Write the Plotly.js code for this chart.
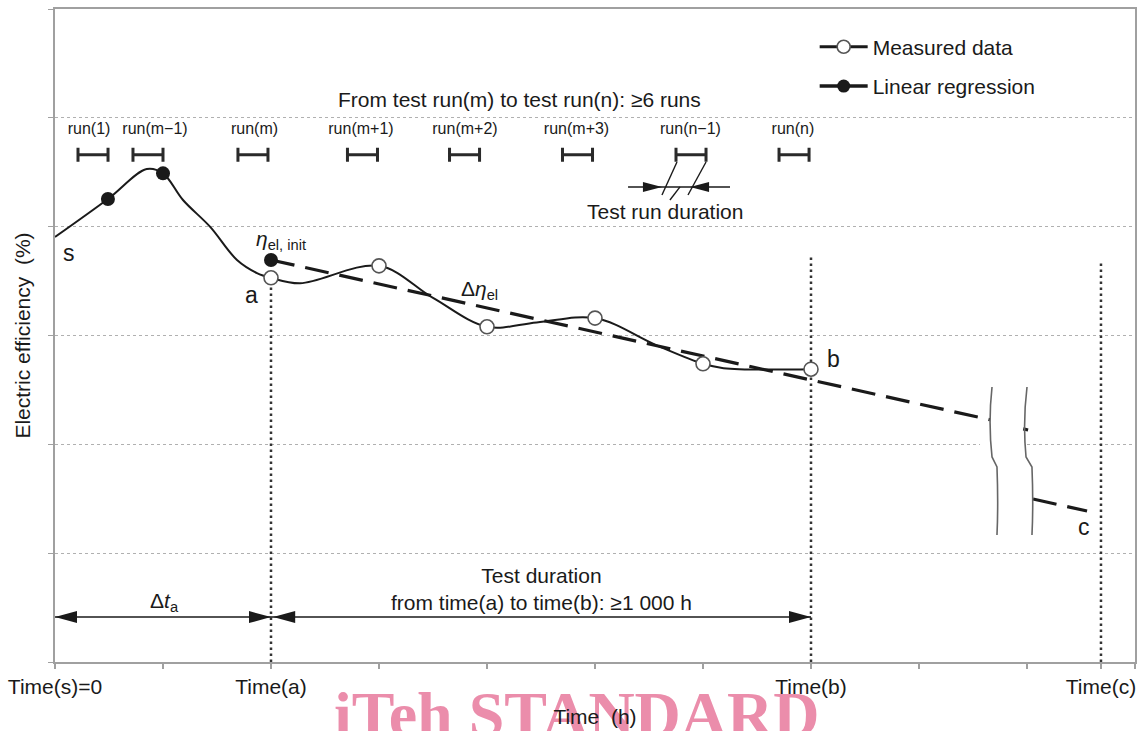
<!DOCTYPE html>
<html><head><meta charset="utf-8">
<script src="https://cdn.plot.ly/plotly-3.0.1.min.js"></script>
<style>html,body{margin:0;padding:0;background:#fff;} #chart{width:1141px;height:731px;}</style>
</head><body><div id="chart"></div>
<script>
// ---- data ----
// smooth efficiency curve (time units, efficiency units)
const curveX = [0, 0.49, 0.85, 1.0, 1.185, 1.435, 1.685, 1.87, 2.0, 2.27, 3.0, 3.5, 4.0, 4.46, 5.0, 5.57, 6.0, 6.19, 7.0];
const curveY = [3.905, 4.254, 4.53, 4.49, 4.245, 4.0, 3.694, 3.574, 3.53, 3.48, 3.64, 3.345, 3.08, 3.12, 3.16, 2.91, 2.74, 2.70, 2.69];
// early runs (filled points)
const earlyX = [0.49, 1.0];
const earlyY = [4.254, 4.49];
// measured data (open points)
const measX = [2, 3, 4, 5, 6, 7];
const measY = [3.53, 3.64, 3.08, 3.16, 2.74, 2.69];
// linear regression
const regStartX = [2];
const regStartY = [3.694];
const regX = [2, 8.657];
const regY = [3.694, 2.226];
const regStubX = [8.965, 9.01];
const regStubY = [2.142, 2.132];
const regTailX = [9.056, 9.556];
const regTailY = [1.498, 1.387];
// test runs
const runLabels = ['run(1)', 'run(m\u22121)', 'run(m)', 'run(m+1)', 'run(m+2)', 'run(m+3)', 'run(n\u22121)', 'run(n)'];
const runCenters = [0.352, 0.861, 1.833, 2.847, 3.792, 4.838, 5.889, 6.843];
const runLabelX = [0.315, 0.926, 1.847, 2.833, 3.796, 4.829, 5.884, 6.833];
const runHalfWidth = 0.139;
const runBarY = 4.66;
const runLabelY = 4.89;
// time marks
const timeLabelX = [0, 2, 7, 9.685];
const timeLabelText = ['Time(s)=0', 'Time(a)', 'Time(b)', 'Time(c)'];
const timeLineTop = [null, 3.48, 3.72, 3.67];

const FONT = '"Liberation Sans", Arial, Helvetica, sans-serif';
const INK = '#1a1a1a';
const FS = 21;

const traces = [];
// vertical dotted time lines
for (let i = 1; i < timeLabelX.length; i++) {
  traces.push({x: [timeLabelX[i], timeLabelX[i]], y: [0, timeLineTop[i]], mode: 'lines',
    line: {color: '#333', width: 2.5, dash: '2.5px,3.5px'}, showlegend: false, hoverinfo: 'skip'});
}
// curve
traces.push({x: curveX, y: curveY, mode: 'lines', line: {color: INK, width: 2, shape: 'spline', smoothing: 1},
  showlegend: false, hoverinfo: 'skip'});
// regression dashed
const dashStyle = {color: INK, width: 3.2, dash: '24px,11px'};
traces.push({x: regX, y: regY, mode: 'lines', line: dashStyle, showlegend: false, hoverinfo: 'skip'});
traces.push({x: regStubX, y: regStubY, mode: 'lines', line: {color: INK, width: 3.2}, showlegend: false, hoverinfo: 'skip'});
traces.push({x: regTailX, y: regTailY, mode: 'lines', line: dashStyle, showlegend: false, hoverinfo: 'skip'});
// filled markers
traces.push({x: earlyX.concat(regStartX), y: earlyY.concat(regStartY), mode: 'markers',
  marker: {color: INK, size: 14, line: {width: 0}}, showlegend: false, hoverinfo: 'skip'});
// measured open markers
traces.push({x: measX, y: measY, mode: 'markers',
  marker: {color: '#fff', size: 14, line: {color: '#555', width: 1.6}}, showlegend: false, hoverinfo: 'skip'});
// run bars (interval markers)
traces.push({x: runCenters, y: runCenters.map(() => runBarY), mode: 'markers',
  marker: {color: 'rgba(0,0,0,0)', size: 1},
  error_x: {type: 'constant', value: runHalfWidth, thickness: 3, width: 7, color: '#2a2a2a'},
  showlegend: false, hoverinfo: 'skip'});
// run labels
traces.push({x: runLabelX, y: runLabelX.map(() => runLabelY), mode: 'text', text: runLabels,
  textfont: {family: FONT, size: 16, color: INK}, showlegend: false, hoverinfo: 'skip'});
// legend entries
traces.push({x: [null], y: [null], name: 'Measured data', mode: 'lines+markers', legendgroup: 'g1',
  line: {color: INK, width: 3}, marker: {color: '#fff', size: 13, line: {color: '#555', width: 1.6}}});
traces.push({x: [null], y: [null], name: 'Linear regression', mode: 'lines+markers', legendgroup: 'g2',
  line: {color: INK, width: 3.5}, marker: {color: INK, size: 13}});

// ---- shapes (arrows, break marks) ----
function head(x, y, dir, len, half) {
  const L = dir * len;
  return {type: 'path', xref: 'x', yref: 'y', xsizemode: 'pixel', ysizemode: 'pixel', xanchor: x, yanchor: y,
    path: `M0,0 L${-L},${half} L${-L},${-half} Z`, fillcolor: INK, line: {width: 0}};
}
const arrowY = 0.413;
const trdY = 4.365;
const shapes = [
  // white patch in the grid behind the break
  {type: 'rect', xref: 'x', yref: 'y', x0: 8.565, x1: 8.99, y0: 1.96, y1: 2.04, fillcolor: '#fff', line: {width: 0}, layer: 'between'},
  // bottom arrows
  {type: 'line', xref: 'x', yref: 'y', x0: 0, x1: 2, y0: arrowY, y1: arrowY, line: {color: INK, width: 1.6}},
  {type: 'line', xref: 'x', yref: 'y', x0: 2, x1: 7, y0: arrowY, y1: arrowY, line: {color: INK, width: 1.6}},
  head(0, arrowY, -1, 22, 6), head(2, arrowY, 1, 22, 6), head(2.02, arrowY, -1, 22, 6), head(7, arrowY, 1, 22, 6),
  // test run duration marker
  {type: 'line', xref: 'x', yref: 'y', x0: 5.306, x1: 6.25, y0: trdY, y1: trdY, line: {color: INK, width: 1.4}},
  head(5.62, trdY, 1, 19, 5), head(5.88, trdY, -1, 19, 5),
  {type: 'line', xref: 'x', yref: 'y', x0: 5.759, x1: 5.620, y0: 4.594, y1: 4.291, line: {color: INK, width: 1.4}},
  {type: 'line', xref: 'x', yref: 'y', x0: 6.028, x1: 5.861, y0: 4.594, y1: 4.291, line: {color: INK, width: 1.4}},
  {type: 'line', xref: 'x', yref: 'y', x0: 5.787, x1: 5.694, y0: 4.365, y1: 4.245, line: {color: INK, width: 1.4}},
  // axis break marks
  {type: 'path', xref: 'x', yref: 'y', path: 'M8.676,2.527 Q8.64,2.2 8.676,1.884 L8.722,1.792 Q8.735,1.45 8.722,1.167', line: {color: '#666', width: 1.6}},
  {type: 'path', xref: 'x', yref: 'y', path: 'M9.0,2.527 Q8.96,2.2 8.991,1.884 L9.046,1.792 Q9.06,1.45 9.046,1.167', line: {color: '#666', width: 1.6}}
];

function ann(text, x, y, size, extra) {
  return Object.assign({text: text, x: x, y: y, xref: 'x', yref: 'y', showarrow: false,
    font: {family: FONT, size: size, color: INK}}, extra || {});
}
const annotations = [
  ann('From test run(m) to test run(n): \u22656 runs', 4.3, 5.164, FS),
  ann('Test run duration', 5.648, 4.135, FS),
  ann('<i>\u03b7</i><sub>el, init</sub>', 2.093, 3.878, FS),
  ann('\u0394<i>\u03b7</i><sub>el</sub>', 3.935, 3.418, FS),
  ann('\u0394<i>t</i><sub>a</sub>', 1.01, 0.551, FS),
  ann('Test duration<br>from time(a) to time(b): \u22651\u00a0000 h', 4.5, 0.675, FS),
  ann('s', 0.13, 3.758, 23),
  ann('a', 1.815, 3.372, 23),
  ann('b', 7.204, 2.784, 23),
  ann('c', 9.528, 1.24, 23)
];

const layout = {
  width: 1141, height: 731,
  margin: {l: 55, r: 6, t: 9, b: 69},
  paper_bgcolor: '#fff', plot_bgcolor: '#fff',
  font: {family: FONT, size: FS, color: INK},
  // watermark printed across the bottom of the source figure
  title: {text: 'iTeh STANDARD', x: 0.5055, xref: 'container', xanchor: 'center', y: 0.055, yref: 'container', yanchor: 'top',
    automargin: false,
    font: {family: '"Liberation Serif", "Times New Roman", serif', size: 64, color: '#eb8dab', weight: 'bold'}},
  showlegend: true,
  legend: {x: 0.7034, y: 0.973, xanchor: 'left', yanchor: 'top', bgcolor: 'rgba(0,0,0,0)',
    font: {family: FONT, size: FS, color: INK}, tracegroupgap: 9, itemwidth: 48},
  xaxis: {range: [0, 10], tickmode: 'array', tickvals: timeLabelX, ticktext: timeLabelText,
    showgrid: false, zeroline: false, showline: true, mirror: true, linecolor: '#a0a0a0', linewidth: 2,
    ticks: 'outside', ticklen: 5, tickcolor: '#a0a0a0', tickwidth: 1.5,
    minor: {tick0: 0, dtick: 1, ticks: 'outside', ticklen: 5, tickcolor: '#a0a0a0', tickwidth: 1.5, showgrid: false},
    tickfont: {family: FONT, size: FS, color: INK},
    title: {text: 'Time\u00a0 (h)', font: {family: FONT, size: FS, color: INK}, standoff: 12}},
  yaxis: {range: [0, 6], tickmode: 'array', tickvals: [0, 1, 2, 3, 4, 5, 6], showticklabels: false,
    showgrid: true, gridcolor: '#b0b0b0', gridwidth: 1, griddash: 'dot', zeroline: false,
    showline: true, mirror: true, linecolor: '#a0a0a0', linewidth: 2,
    ticks: 'outside', ticklen: 5, tickcolor: '#a0a0a0',
    title: {text: 'Electric efficiency\u00a0 (%)', font: {family: FONT, size: FS, color: INK}, standoff: 12}},
  shapes: shapes,
  annotations: annotations
};

Plotly.newPlot('chart', traces, layout, {displayModeBar: false, staticPlot: true});
</script>
</body></html>
